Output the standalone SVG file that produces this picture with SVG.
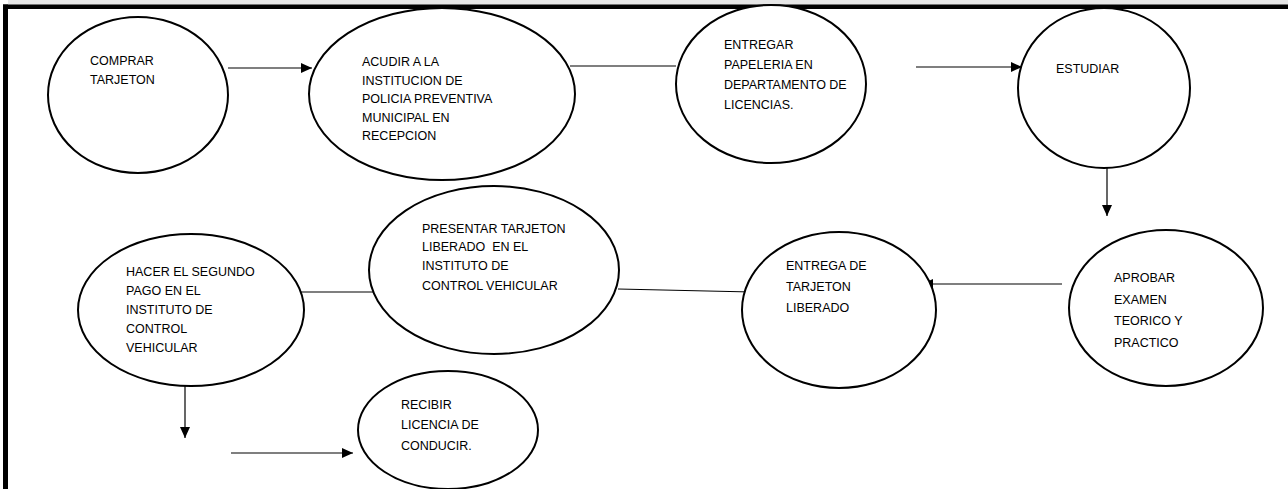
<svg xmlns="http://www.w3.org/2000/svg" width="1288" height="489" viewBox="0 0 1288 489">
<style>
.n{fill:#fff;stroke:#000;stroke-width:2}
.t{font-family:"Liberation Sans",Arial,sans-serif;font-size:12.5px;fill:#000}
.c{stroke:#000;stroke-width:1.2;fill:none}
</style>
<defs>
<marker id="ah" viewBox="0 0 11 10" refX="11" refY="5" markerWidth="11" markerHeight="10" markerUnits="userSpaceOnUse" orient="auto">
<path d="M0,0 L11,5 L0,10 Z" fill="#000"/>
</marker>
</defs>
<rect x="0" y="0" width="1288" height="489" fill="#fff"/>
<rect x="8" y="0" width="1280" height="5" fill="#e6e6e6"/>
<rect x="3" y="4.5" width="1285" height="4.5" fill="#000"/>
<rect x="3" y="4.5" width="5" height="484.5" fill="#000"/>

<g id="connectors">
<line class="c" x1="228" y1="68" x2="312" y2="68" marker-end="url(#ah)"/>
<line class="c" x1="570" y1="66" x2="676" y2="66"/>
<line class="c" x1="916" y1="67" x2="1022" y2="67" marker-end="url(#ah)"/>
<line class="c" x1="1107" y1="168" x2="1107" y2="216" marker-end="url(#ah)"/>
<line class="c" x1="1062" y1="284" x2="922" y2="284" marker-end="url(#ah)"/>
<line class="c" x1="618" y1="289" x2="752" y2="292"/>
<line class="c" x1="300" y1="292" x2="380" y2="292"/>
<line class="c" x1="185" y1="381" x2="185" y2="438" marker-end="url(#ah)"/>
<line class="c" x1="231" y1="453" x2="353" y2="453" marker-end="url(#ah)"/>
</g>

<g id="n1">
<ellipse class="n" cx="138" cy="95" rx="90" ry="78"/>
<text class="t" x="90" y="65">COMPRAR</text>
<text class="t" x="90" y="84">TARJETON</text>
</g>
<g id="n2">
<ellipse class="n" cx="442" cy="94" rx="133" ry="86"/>
<text class="t" x="362" y="66">ACUDIR A LA</text>
<text class="t" x="362" y="85">INSTITUCION DE</text>
<text class="t" x="362" y="103">POLICIA PREVENTIVA</text>
<text class="t" x="362" y="122">MUNICIPAL EN</text>
<text class="t" x="362" y="140">RECEPCION</text>
</g>
<g id="n3">
<ellipse class="n" cx="771" cy="84" rx="95" ry="79"/>
<text class="t" x="724" y="49">ENTREGAR</text>
<text class="t" x="724" y="69">PAPELERIA EN</text>
<text class="t" x="724" y="89">DEPARTAMENTO DE</text>
<text class="t" x="724" y="109">LICENCIAS.</text>
</g>
<g id="n4">
<ellipse class="n" cx="1104" cy="88" rx="86" ry="80"/>
<text class="t" x="1056" y="73">ESTUDIAR</text>
</g>
<g id="n5">
<ellipse class="n" cx="1166" cy="308" rx="97" ry="78"/>
<text class="t" x="1114" y="282">APROBAR</text>
<text class="t" x="1114" y="304">EXAMEN</text>
<text class="t" x="1114" y="325">TEORICO Y</text>
<text class="t" x="1114" y="347">PRACTICO</text>
</g>
<g id="n6">
<ellipse class="n" cx="839" cy="310" rx="97" ry="78"/>
<text class="t" x="786" y="270">ENTREGA DE</text>
<text class="t" x="786" y="291">TARJETON</text>
<text class="t" x="786" y="312">LIBERADO</text>
</g>
<g id="n7">
<ellipse class="n" cx="494" cy="270" rx="125" ry="84"/>
<text class="t" x="422" y="233">PRESENTAR TARJETON</text>
<text class="t" x="422" y="251" xml:space="preserve">LIBERADO  EN EL</text>
<text class="t" x="422" y="270">INSTITUTO DE</text>
<text class="t" x="422" y="290">CONTROL VEHICULAR</text>
</g>
<g id="n8">
<ellipse class="n" cx="191" cy="310" rx="113" ry="76"/>
<text class="t" x="126" y="276">HACER EL SEGUNDO</text>
<text class="t" x="126" y="295">PAGO EN EL</text>
<text class="t" x="126" y="314">INSTITUTO DE</text>
<text class="t" x="126" y="333">CONTROL</text>
<text class="t" x="126" y="352">VEHICULAR</text>
</g>
<g id="n9">
<ellipse class="n" cx="448" cy="430" rx="90" ry="59"/>
<text class="t" x="401" y="409">RECIBIR</text>
<text class="t" x="401" y="429">LICENCIA DE</text>
<text class="t" x="401" y="450">CONDUCIR.</text>
</g>
</svg>
